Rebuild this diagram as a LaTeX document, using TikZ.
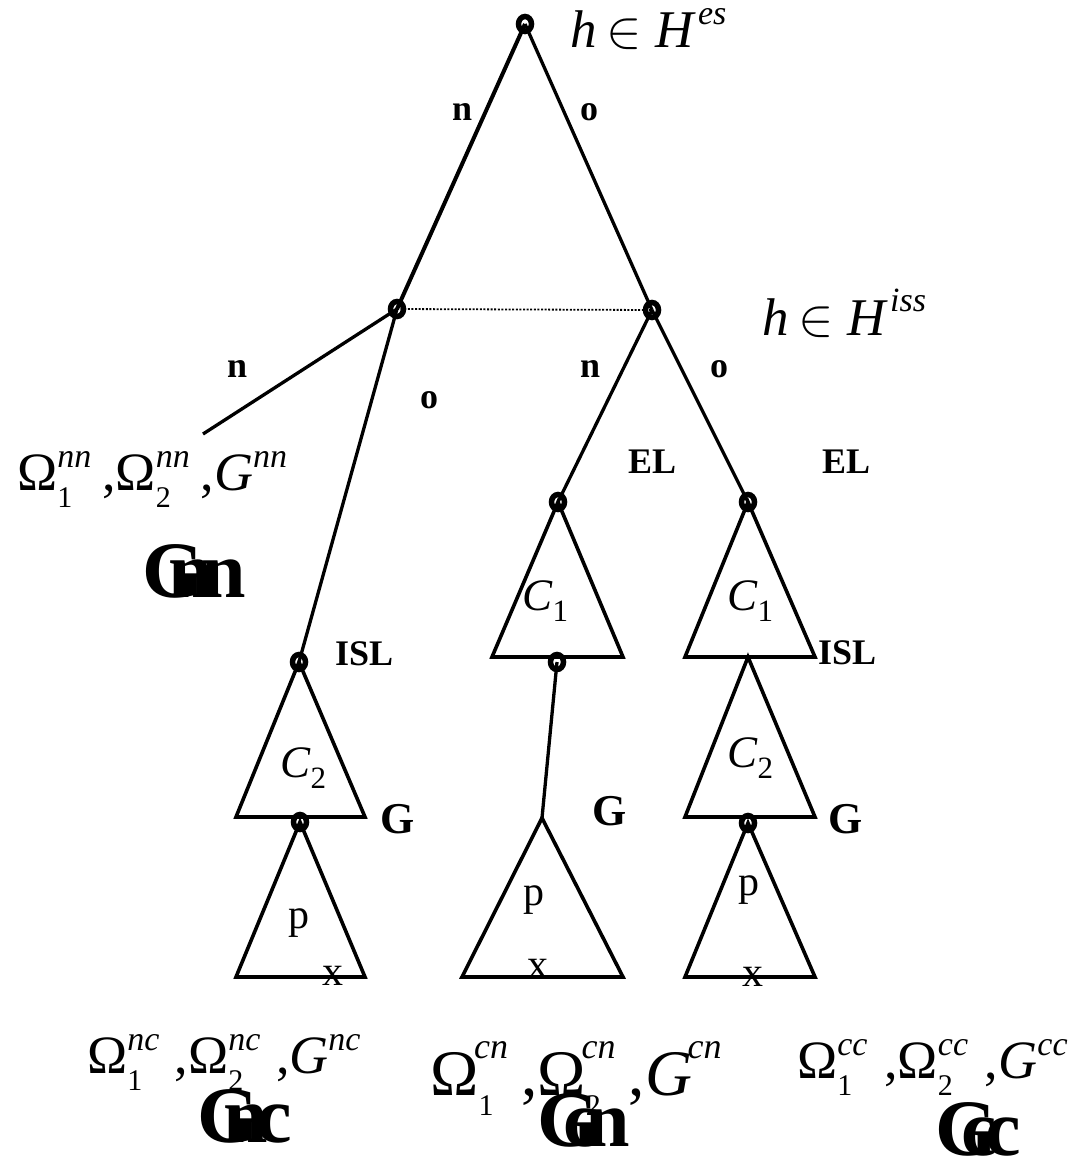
\documentclass[tikz,border=0pt]{standalone}
\usepackage{graphicx}
\usepackage{fontspec}
\setmainfont{Liberation Serif}
\usetikzlibrary{shapes.geometric}
\newcommand\fs[1]{\fontsize{#1pt}{#1pt}\selectfont}
% #1 small size, #2 sup, #3 sub, #4 box width, #5 raise
\newcommand\SupSub[5]{\makebox[#4][l]{\rlap{\raisebox{#5}{\fs{#1}\itshape #2}}\raisebox{-0.32em}{\fs{30}#3}}}
% #1 main size, #2 small size, #3 sup, #4 width, #5 raise
\newcommand\OmLab[5]{{\fs{#1}Ω\SupSub{#2}{#3}{1}{#4}{#5},Ω\SupSub{#2}{#3}{2}{#4}{#5},\textit{G}\rlap{\raisebox{#5}{\fs{#2}\itshape #3}}}}
\newcommand\BigLab[3]{{\fs{80}\bfseries G\kern-0.45em #1\kern#3 #2}}
\newcommand\CLab[1]{{\fs{45}\textit{C}\raisebox{-0.26em}{\fs{31}#1}}}
\newcommand\HLab[2]{{\fs{53}\textit{h}\hspace{0.18em}{\fs{10}\scalebox{5.3}{$\in$}}\hspace{0.26em}\textit{H}\hspace{0.04em}\raisebox{#2}{\fs{34}\itshape #1}}}
\begin{document}
\begin{tikzpicture}[x=1pt,y=-1pt,
  edge/.style={line width=3.3pt},
  tri/.style={line width=3.6pt, line join=miter},
  dnode/.style={ellipse, draw, line width=5.5pt, minimum width=13pt, minimum height=15pt, inner sep=0pt},
  blab/.style={font=\fs{36}\bfseries, inner sep=0pt, anchor=base west},
  glab/.style={font=\fs{44}\bfseries, inner sep=0pt, anchor=base west},
  plab/.style={font=\fs{42}, inner sep=0pt, anchor=base west},
  tlab/.style={inner sep=0pt, anchor=base west}]
\useasboundingbox (0,0) rectangle (1073,1170);

% decision nodes
\node[dnode] (root) at (525,24) {};
\node[dnode] (L) at (397,309) {};
\node[dnode] (R) at (652,310) {};
\node[dnode] (isl) at (299,662) {};
\node[dnode] (lg) at (300,822) {};
\node[dnode] (mel) at (558,502) {};
\node[dnode] (mc) at (557,662) {};
\node[dnode] (rel) at (748,502) {};
\node[dnode] (rg) at (748,823) {};

% triangle corners and free ends
\coordinate (nnend) at (203,434);
\coordinate (lc2a) at (236,817);
\coordinate (lc2b) at (365,817);
\coordinate (lpa) at (236,977);
\coordinate (lpb) at (365,977);
\coordinate (mc1a) at (492,657);
\coordinate (mc1b) at (623,657);
\coordinate (mpt) at (542,818);
\coordinate (mpa) at (462,977);
\coordinate (mpb) at (623,977);
\coordinate (rc1a) at (685,657);
\coordinate (rc1b) at (815,657);
\coordinate (rc2t) at (748,657);
\coordinate (rc2a) at (685,817);
\coordinate (rc2b) at (815,817);
\coordinate (rpa) at (685,977);
\coordinate (rpb) at (815,977);

% edges
\draw[line width=4pt] (root.center) -- (L.center);
\draw[edge] (root.center) -- (R.center);
\draw[line width=1.8pt, dash pattern=on 2pt off 1.6pt] (L.center) -- (R.center);
\draw[edge] (L.center) -- (nnend);
\draw[edge] (L.center) -- (isl.center);
\draw[edge] (R.center) -- (mel.center);
\draw[edge] (R.center) -- (rel.center);
\draw[edge] (mc.center) -- (mpt);

% triangles
\draw[tri] (isl.center) -- (lc2a) -- (lc2b) -- cycle;
\draw[tri] (lg.center) -- (lpa) -- (lpb) -- cycle;
\draw[tri] (mel.center) -- (mc1a) -- (mc1b) -- cycle;
\draw[tri] (mpt) -- (mpa) -- (mpb) -- cycle;
\draw[tri] (rel.center) -- (rc1a) -- (rc1b) -- cycle;
\draw[tri] (rc2t) -- (rc2a) -- (rc2b) -- cycle;
\draw[tri] (rg.center) -- (rpa) -- (rpb) -- cycle;

% information-set labels
\node[tlab] (hes) at (570,47) {\HLab{es}{0.42em}};
\node[tlab] (hiss) at (762,335) {\HLab{iss}{0.44em}};

% branch labels
\node[blab] (tn) at (452,120) {n};
\node[blab] (to) at (580,120) {o};
\node[blab] (ln) at (227,377) {n};
\node[blab] (lo) at (420,408) {o};
\node[blab] (rn) at (580,377) {n};
\node[blab] (ro) at (710,377) {o};
\node[blab] (el1) at (628,473) {EL};
\node[blab] (el2) at (822,473) {EL};
\node[blab] (isl1) at (335,665) {ISL};
\node[blab] (isl2) at (818,664) {ISL};
\node[glab] (g1) at (380,833) {G};
\node[glab] (g2) at (592,825) {G};
\node[glab] (g3) at (828,833) {G};

% triangle contents
\node[tlab] (c2l) at (280,777) {\CLab{2}};
\node[tlab] (c1m) at (522,610) {\CLab{1}};
\node[tlab] (c1r) at (727,610) {\CLab{1}};
\node[tlab] (c2r) at (727,767) {\CLab{2}};
\node[plab] (pl) at (288,928) {p};
\node[plab] (xl) at (322,985) {x};
\node[plab] (pm) at (523,905) {p};
\node[plab] (xm) at (527,978) {x};
\node[plab] (pr) at (738,895) {p};
\node[plab] (xr) at (742,986) {x};

% outcome labels
\node[tlab] (omnn) at (17,490) {\OmLab{54}{34}{nn}{0.83em}{0.41em}};
\node[tlab] (omnc) at (87,1073) {\OmLab{54}{34}{nc}{0.88em}{0.41em}};
\node[tlab] (omcn) at (430,1095) {\OmLab{65}{36}{\kern-0.12em cn}{0.66em}{0.56em}};
\node[tlab] (omcc) at (797,1078) {\OmLab{54}{34}{cc}{0.87em}{0.41em}};

% game names
\node[tlab] (gnn) at (142,597) {\BigLab{n}{n}{-0.15em}};
\node[tlab] (gnc) at (197,1142) {\BigLab{n}{c}{-0.15em}};
\node[tlab] (gcn) at (537,1146) {\BigLab{c}{n}{-0.17em}};
\node[tlab] (gcc) at (935,1155) {\BigLab{c}{c}{-0.15em}};
\end{tikzpicture}
\end{document}
